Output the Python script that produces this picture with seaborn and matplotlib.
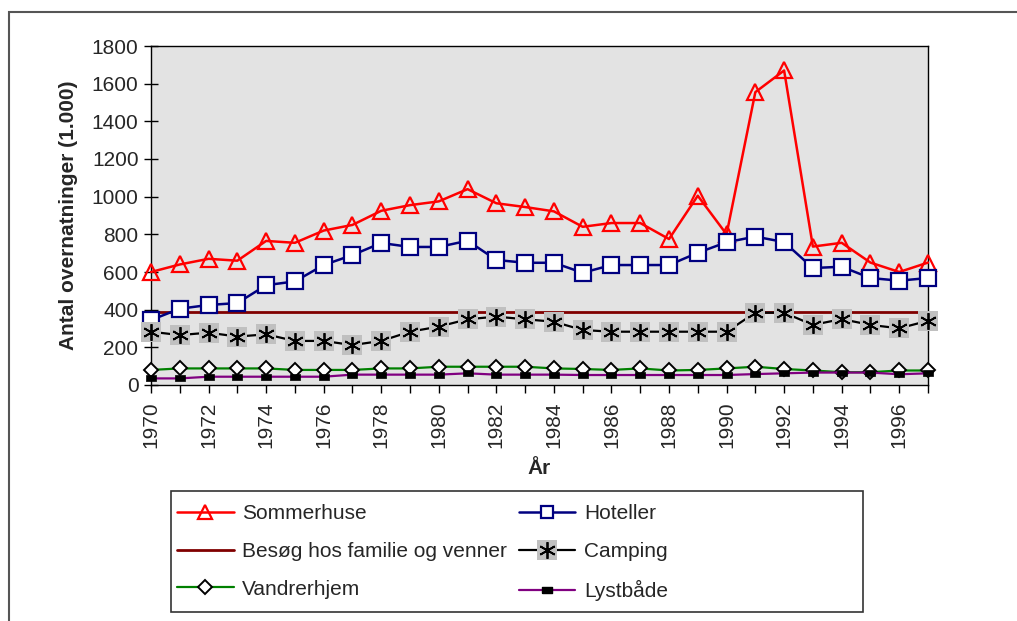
import matplotlib.pyplot as plt
import seaborn as sns
from matplotlib.lines import Line2D
from matplotlib.patches import Rectangle

# data (1.000 overnatninger)
years = list(range(1970, 1998))
sommerhuse = [600, 640, 670, 660, 765, 755, 820, 850, 925, 955, 975, 1040, 965, 945,
              922, 840, 860, 860, 775, 1005, 800, 1555, 1670, 735, 755, 650, 600, 650]
hoteller = [345, 405, 425, 435, 530, 550, 637, 690, 754, 733, 733, 766, 664, 649,
            649, 596, 637, 637, 637, 702, 758, 788, 759, 621, 628, 568, 554, 568]
besoeg = [390, 390, 390, 390, 390, 390, 390, 390, 390, 390, 390, 390, 390, 390,
          390, 390, 390, 390, 390, 390, 390, 390, 390, 390, 390, 390, 390, 390]
camping = [283, 265, 278, 257, 269, 234, 234, 212, 234, 283, 310, 349, 363, 349,
           336, 292, 283, 283, 283, 283, 283, 384, 384, 319, 350, 319, 301, 341]
vandrerhjem = [80, 88, 88, 88, 88, 80, 80, 80, 88, 88, 97, 97, 97, 97,
               88, 85, 80, 88, 77, 80, 88, 97, 85, 77, 68, 68, 77, 77]
lystbaade = [35, 35, 44, 44, 44, 44, 44, 55, 55, 55, 55, 62, 55, 55,
             55, 53, 53, 53, 53, 53, 53, 58, 62, 66, 66, 66, 57, 62]

sns.set_style("ticks")
plt.rcParams['font.family'] = ['Liberation Sans', 'DejaVu Sans']
fs = 15

fig = plt.figure(figsize=(10.17, 6.21), dpi=100)
W, H = 1017, 621
ax = fig.add_axes([151 / W, 1 - 385 / H, (928 - 151) / W, (385 - 46) / H])
ax.set_facecolor('#e3e3e3')

# small flat box marker for Lystbaade
box = [(-1, -0.55), (1, -0.55), (1, 0.55), (-1, 0.55), (-1, -0.55)]
star = (6, 2, 0)

sns.lineplot(x=years, y=sommerhuse, ax=ax, color='#ff0000', lw=1.8,
             marker='^', markersize=12, markerfacecolor='none',
             markeredgecolor='#ff0000', markeredgewidth=1.6, clip_on=False, zorder=5)
sns.lineplot(x=years, y=hoteller, ax=ax, color='#000080', lw=1.8,
             marker='s', markersize=11, markerfacecolor='white',
             markeredgecolor='#000080', markeredgewidth=1.6, clip_on=False, zorder=5)
sns.lineplot(x=years, y=besoeg, ax=ax, color='#800000', lw=2, clip_on=False, zorder=4)
sns.lineplot(x=years, y=camping, ax=ax, color='black', lw=1.6,
             marker='s', markersize=14, markerfacecolor='#c0c0c0',
             markeredgecolor='#c0c0c0', markeredgewidth=0, clip_on=False, zorder=5)
sns.lineplot(x=years, y=camping, ax=ax, color='black', linestyle='none',
             marker=star, markersize=12, markeredgecolor='black',
             markeredgewidth=1.3, clip_on=False, zorder=6)
sns.lineplot(x=years, y=vandrerhjem, ax=ax, color='#008000', lw=1.6,
             marker='D', markersize=7, markerfacecolor='white',
             markeredgecolor='black', markeredgewidth=1.4, clip_on=False, zorder=6)
sns.lineplot(x=years, y=lystbaade, ax=ax, color='#800080', lw=1.6,
             marker=box, markersize=7, markerfacecolor='black',
             markeredgecolor='black', markeredgewidth=0.5, clip_on=False, zorder=7)

ax.set_xlim(1970, 1997)
ax.set_ylim(0, 1800)
ax.set_yticks(range(0, 1801, 200))
ax.set_xticks(years)
ax.set_xticklabels([str(y) if y % 2 == 0 else '' for y in years], rotation=90)
ax.tick_params(axis='y', direction='inout', length=10, width=1, labelsize=fs, pad=4, color='black')
ax.tick_params(axis='x', direction='out', length=6, width=1, labelsize=fs, pad=6, color='black')
for s in ax.spines.values():
    s.set_color('black')
    s.set_linewidth(1)

ax.set_xlabel('År', fontsize=fs, fontweight='bold', labelpad=8)
ax.set_ylabel('Antal overnatninger (1.000)', fontsize=fs, fontweight='bold', labelpad=10)

# legend
h_som = Line2D([], [], color='#ff0000', lw=1.8, marker='^', markersize=10,
               markerfacecolor='none', markeredgecolor='#ff0000', markeredgewidth=1.6)
h_hot = Line2D([], [], color='#000080', lw=1.8, marker='s', markersize=9,
               markerfacecolor='white', markeredgecolor='#000080', markeredgewidth=1.6)
h_bes = Line2D([], [], color='#800000', lw=2)
h_cam = (Line2D([], [], color='black', lw=1.6, marker='s', markersize=14,
                markerfacecolor='#c0c0c0', markeredgewidth=0),
         Line2D([], [], linestyle='none', marker=star, markersize=12,
                markeredgecolor='black', markeredgewidth=1.3))
h_van = Line2D([], [], color='#008000', lw=1.6, marker='D', markersize=7,
               markerfacecolor='white', markeredgecolor='black', markeredgewidth=1.4)
h_lys = Line2D([], [], color='#800080', lw=1.6, marker=box, markersize=7,
               markerfacecolor='black', markeredgecolor='black')

handles = [h_som, h_bes, h_van, h_hot, h_cam, h_lys]
labels = ['Sommerhuse', 'Besøg hos familie og venner', 'Vandrerhjem',
          'Hoteller', 'Camping', 'Lystbåde']
fig.legend(handles, labels, loc='upper left', bbox_to_anchor=(171 / W, 1 - 498 / H),
           ncol=2, frameon=False, fontsize=fs, handlelength=2.7, handletextpad=0.4,
           columnspacing=0.6, labelspacing=0.9, borderaxespad=0, borderpad=0.3)
fig.patches.append(Rectangle((171 / W, 1 - 612 / H), (863 - 171) / W, (612 - 491) / H,
                             transform=fig.transFigure, fill=False,
                             edgecolor='#333333', lw=1.2))

# outer chart border (runs off the image at right and bottom)
fig.patches.append(Rectangle((9 / W, -0.1), 1.2, 1.1 - 12 / H, transform=fig.transFigure,
                             fill=False, edgecolor='#555555', lw=1.5))

fig.savefig('out.png', dpi=100)
